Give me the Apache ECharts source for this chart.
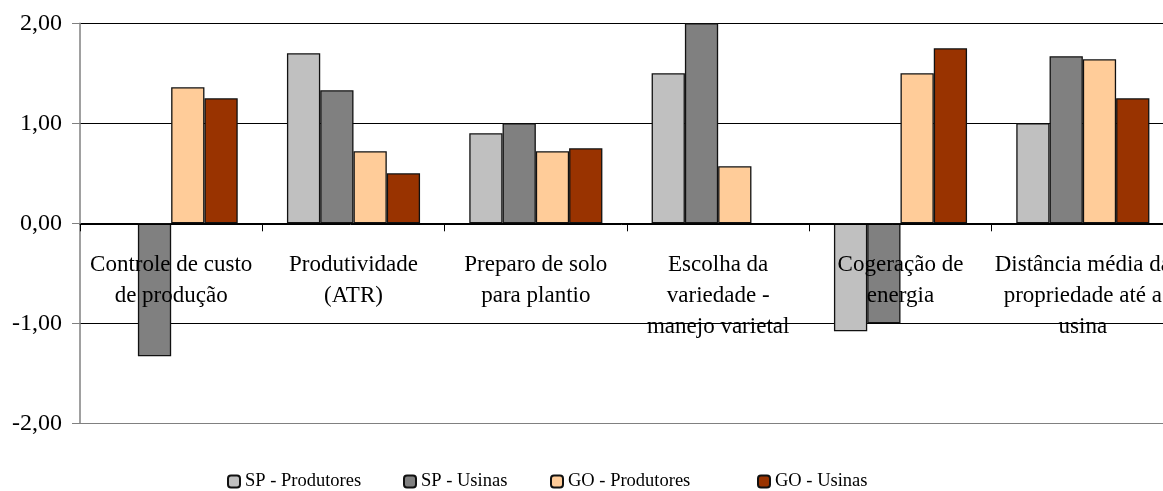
<!DOCTYPE html>
<html>
<head>
    <meta charset="utf-8"/>
    <title>ECharts</title>
    <script src="https://cdn.jsdelivr.net/npm/echarts@6/dist/echarts.min.js"></script>
</head>
<body style="margin:0">
<div id="main" style="width: 1163px;height:491px;"></div>
<script type="text/javascript">
    // categorias (eixo x)
    var categories = [
        'Controle de custo\nde produção',
        'Produtividade\n(ATR)',
        'Preparo de solo\npara plantio',
        'Escolha da\nvariedade -\nmanejo varietal',
        'Cogeração de\nenergia',
        'Distância média da\npropriedade até a\nusina'
    ];
    var yTicks = [-2, -1, 0, 1, 2];

    // séries
    var seriesNames = ['SP - Produtores', 'SP - Usinas', 'GO - Produtores', 'GO - Usinas'];
    var spProdutores = [null, 1.70, 0.90, 1.50, -1.08, 1.00];
    var spUsinas = [-1.33, 1.33, 1.00, 2.00, -1.00, 1.67];
    var goProdutores = [1.36, 0.72, 0.72, 0.57, 1.50, 1.64];
    var goUsinas = [1.25, 0.50, 0.75, null, 1.75, 1.25];

    var colors = ['#C0C0C0', '#808080', '#FFCC99', '#993300'];
    var values = [spProdutores, spUsinas, goProdutores, goUsinas];
    var legendLeft = [227, 403, 550, 757];
    var font = 'Liberation Serif';

    var myChart = echarts.init(document.getElementById('main'));

    var option = {
        animation: false,
        backgroundColor: '#fff',
        grid: {left: 80, right: -11, top: 23.3, bottom: 67.7, outerBoundsMode: 'none', containLabel: false},
        legend: seriesNames.map(function (n, i) {
            return {
                data: [n],
                left: legendLeft[i],
                top: 472,
                padding: 0,
                itemWidth: 12,
                itemHeight: 12,
                itemGap: 4,
                textStyle: {fontFamily: font, fontSize: 18.5, color: '#000'}
            };
        }),
        xAxis: {
            type: 'category',
            data: categories,
            z: 3,
            position: 'bottom',
            // eixo desenhado na linha do zero (metade da altura do grid)
            offset: -199,
            axisLine: {onZero: false, lineStyle: {color: '#000', width: 1}},
            axisTick: {show: true, length: 7, lineStyle: {color: '#000'}},
            axisLabel: {
                interval: 0,
                hideOverlap: false,
                margin: 25,
                fontFamily: font,
                fontSize: 23,
                lineHeight: 31,
                color: '#000',
                align: 'center'
            },
            splitLine: {show: false}
        },
        yAxis: {
            type: 'value',
            min: -2,
            max: 2,
            interval: 1,
            axisLine: {show: true, lineStyle: {color: '#808080', width: 1.5}},
            axisTick: {show: true, length: 8, lineStyle: {color: '#808080'}},
            axisLabel: {
                margin: 18,
                fontFamily: font,
                fontSize: 24,
                color: '#000',
                formatter: function (v) {
                    return v.toFixed(2).replace('.', ',');
                }
            },
            splitLine: {
                show: true,
                lineStyle: {color: ['#808080', '#000', '#000', '#000', '#000'], width: 1}
            }
        },
        series: seriesNames.map(function (n, i) {
            return {
                name: n,
                type: 'bar',
                data: values[i],
                barGap: '0%',
                barCategoryGap: '27%',
                itemStyle: {color: colors[i], borderColor: '#111', borderWidth: 1.3}
            };
        })
    };

    myChart.setOption(option);
</script>
</body>
</html>
